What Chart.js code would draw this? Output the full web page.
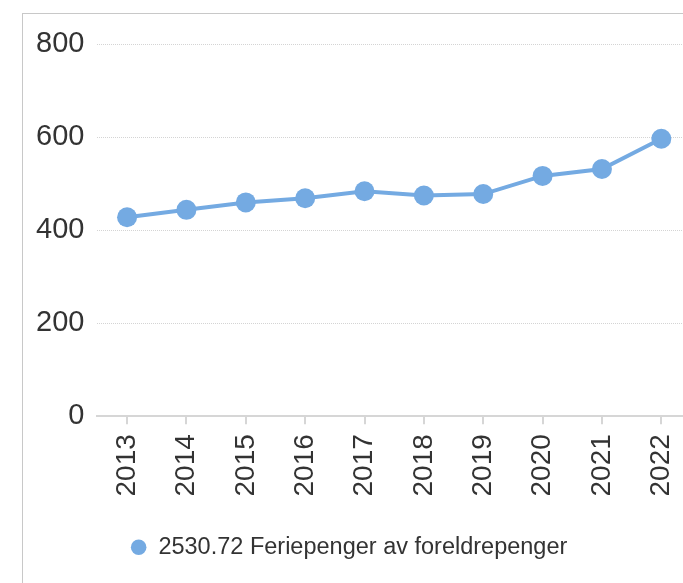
<!DOCTYPE html>
<html>
<head>
<meta charset="utf-8">
<script src="https://cdn.jsdelivr.net/npm/chart.js@4/dist/chart.umd.min.js"></script>
<style>
  html, body { margin: 0; padding: 0; background: #fff; overflow: hidden; }
  #frame {
    position: absolute;
    left: 22px;
    top: 13px;
    width: 678px;
    height: 570px;
    border-left: 1px solid #c8c8c8;
    border-top: 1px solid #c8c8c8;
  }
</style>
</head>
<body>
<div id="frame"><canvas id="chart" width="678" height="570"></canvas></div>
<script>
const years = ["2013", "2014", "2015", "2016", "2017", "2018", "2019", "2020", "2021", "2022"];
const values = [428, 444, 460, 469, 484, 475, 478, 517, 532, 597];
const seriesLabel = "2530.72 Feriepenger av foreldrepenger";
const yTicks = [0, 200, 400, 600, 800];

const lineColor = "rgb(116, 170, 226)";
const textColor = "#333333";
const fontFamily = "'Liberation Sans', Arial, sans-serif";

// nudge the legend a bit left, the original is not centred on the canvas
const legendShift = {
  id: "legendShift",
  afterUpdate(chart) {
    if (chart.legend) {
      chart.legend.left -= 13;
      chart.legend.right -= 13;
    }
  },
};

const ctx = document.getElementById("chart").getContext("2d");

new Chart(ctx, {
  type: "line",
  data: {
    labels: years,
    datasets: [
      {
        label: seriesLabel,
        data: values,
        borderColor: lineColor,
        backgroundColor: lineColor,
        borderWidth: 4,
        pointRadius: 10,
        pointBorderWidth: 0,
        pointBackgroundColor: lineColor,
        tension: 0,
      },
    ],
  },
  options: {
    responsive: false,
    animation: false,
    layout: {
      padding: { left: 0, top: 28, right: 0, bottom: 15 },
    },
    scales: {
      x: {
        offset: true,
        afterFit: (axis) => {
          // let the plot run to the right edge
          axis.paddingRight = 0;
        },
        grid: {
          display: true,
          drawOnChartArea: false,
          drawTicks: true,
          tickLength: 8,
          color: "#d6d6d6",
          lineWidth: 2,
        },
        border: { display: true, color: "#d6d6d6", width: 2 },
        ticks: {
          color: textColor,
          font: { family: fontFamily, size: 28 },
          minRotation: 90,
          maxRotation: 90,
          padding: 10,
        },
      },
      y: {
        min: 0,
        max: 800,
        afterBuildTicks: (axis) => {
          axis.ticks = yTicks.map((v) => ({ value: v }));
        },
        grid: {
          color: "#d4d4d4",
          lineWidth: 1,
          drawTicks: false,
        },
        border: { display: false, dash: [1, 1] },
        ticks: {
          color: textColor,
          font: { family: fontFamily, size: 29 },
          padding: 13,
        },
      },
    },
    plugins: {
      legend: {
        position: "bottom",
        labels: {
          usePointStyle: true,
          pointStyle: "circle",
          boxWidth: 16,
          boxHeight: 11,
          color: textColor,
          font: { family: fontFamily, size: 23.5 },
          padding: 29,
        },
      },
      tooltip: { enabled: false },
    },
  },
  plugins: [legendShift],
});
</script>
</body>
</html>
